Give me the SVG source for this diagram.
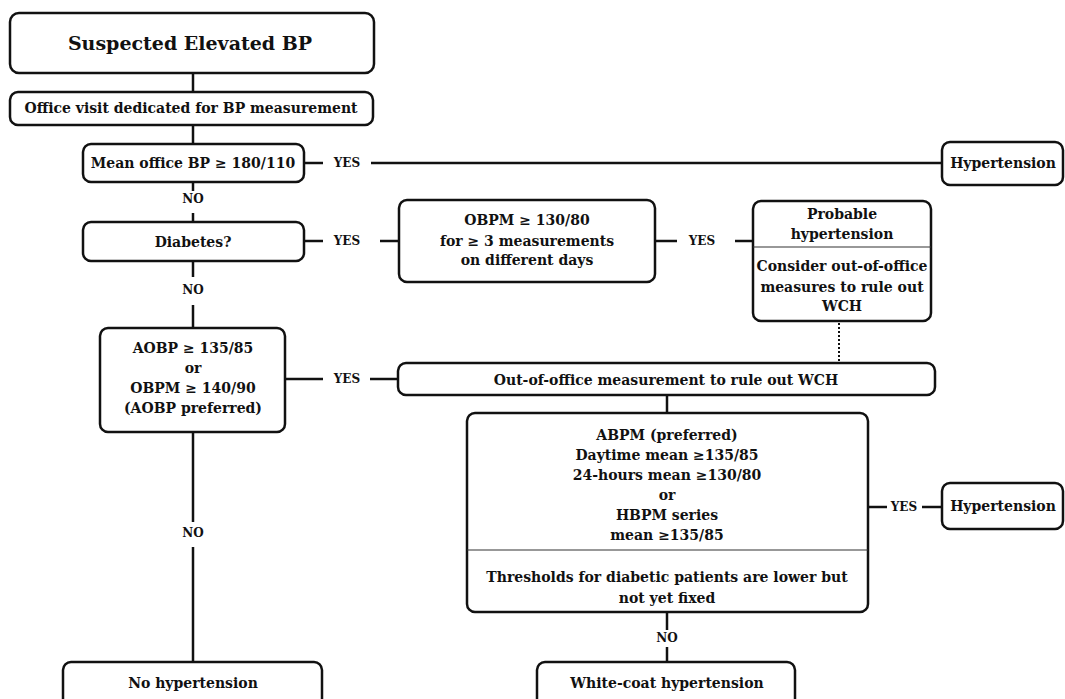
<svg xmlns="http://www.w3.org/2000/svg" width="1065" height="699" viewBox="0 0 1065 699">
<style>
.box{fill:#fff;stroke:#111;stroke-width:2.5}
.div{stroke:#333;stroke-width:1.2}
.ln{stroke:#111;stroke-width:2.5;fill:none}
.dot{stroke:#111;stroke-width:2;stroke-dasharray:2 2;fill:none}
text{font-family:"DejaVu Serif","Liberation Serif",serif;font-weight:bold;fill:#111;text-anchor:middle;dominant-baseline:central}
.t{font-size:14px}
.s{font-size:12px}
.h{font-size:19px}
</style>
<rect width="1065" height="699" fill="#fff"/>
<g id="connectors">
<line class="ln" x1="193" y1="73" x2="193" y2="92"/>
<line class="ln" x1="193" y1="125" x2="193" y2="144"/>
<line class="ln" x1="304" y1="163" x2="323" y2="163"/>
<text class="s" x="347" y="163">YES</text>
<line class="ln" x1="371" y1="163" x2="942" y2="163"/>
<line class="ln" x1="193" y1="182" x2="193" y2="191"/>
<text class="s" x="193" y="199">NO</text>
<line class="ln" x1="193" y1="213" x2="193" y2="222"/>
<line class="ln" x1="304" y1="241" x2="323" y2="241"/>
<text class="s" x="347" y="241">YES</text>
<line class="ln" x1="380" y1="241" x2="399" y2="241"/>
<line class="ln" x1="655" y1="241" x2="677" y2="241"/>
<text class="s" x="702" y="241">YES</text>
<line class="ln" x1="735" y1="241" x2="753" y2="241"/>
<line class="ln" x1="193" y1="261" x2="193" y2="277"/>
<text class="s" x="193" y="290">NO</text>
<line class="ln" x1="193" y1="305" x2="193" y2="328"/>
<line class="dot" x1="839" y1="323" x2="839" y2="362"/>
<line class="ln" x1="285" y1="379" x2="323" y2="379"/>
<text class="s" x="347" y="379">YES</text>
<line class="ln" x1="370" y1="379" x2="398" y2="379"/>
<line class="ln" x1="667" y1="395" x2="667" y2="413"/>
<line class="ln" x1="193" y1="432" x2="193" y2="522"/>
<text class="s" x="193" y="533">NO</text>
<line class="ln" x1="193" y1="547" x2="193" y2="662"/>
<line class="ln" x1="868" y1="507" x2="887" y2="507"/>
<text class="s" x="904" y="507">YES</text>
<line class="ln" x1="922" y1="507" x2="942" y2="507"/>
<line class="ln" x1="667" y1="612" x2="667" y2="630"/>
<text class="s" x="667" y="638">NO</text>
<line class="ln" x1="667" y1="647" x2="667" y2="662"/>
</g>
<g id="n-suspected">
<rect class="box" x="10" y="13" width="364" height="60" rx="9"/>
<text class="h" x="190" y="43">Suspected Elevated BP</text>
</g>
<g id="n-officevisit">
<rect class="box" x="10" y="92" width="363" height="33" rx="8"/>
<text class="t" x="191" y="108">Office visit dedicated for BP measurement</text>
</g>
<g id="n-mean">
<rect class="box" x="83" y="144" width="221" height="38" rx="8"/>
<text class="t" x="193" y="163">Mean office BP ≥  180/110</text>
</g>
<g id="n-htn1">
<rect class="box" x="942" y="142" width="121" height="43" rx="8"/>
<text class="t" x="1003" y="163">Hypertension</text>
</g>
<g id="n-diabetes">
<rect class="box" x="83" y="222" width="221" height="39" rx="8"/>
<text class="t" x="193" y="242">Diabetes?</text>
</g>
<g id="n-obpm">
<rect class="box" x="399" y="200" width="256" height="82" rx="8"/>
<text class="t" x="527" y="220">OBPM ≥ 130/80</text>
<text class="t" x="527" y="241">for ≥ 3 measurements</text>
<text class="t" x="527" y="260">on different days</text>
</g>
<g id="n-probable">
<rect class="box" x="753" y="201" width="178" height="120" rx="8"/>
<line class="div" x1="753" y1="247" x2="931" y2="247"/>
<text class="t" x="842" y="214">Probable</text>
<text class="t" x="842" y="234">hypertension</text>
<text class="t" x="842" y="266">Consider out-of-office</text>
<text class="t" x="842" y="287">measures to rule out</text>
<text class="t" x="842" y="306">WCH</text>
</g>
<g id="n-aobp">
<rect class="box" x="100" y="328" width="185" height="104" rx="8"/>
<text class="t" x="193" y="348">AOBP ≥ 135/85</text>
<text class="t" x="193" y="368">or</text>
<text class="t" x="193" y="388">OBPM ≥ 140/90</text>
<text class="t" x="193" y="408">(AOBP preferred)</text>
</g>
<g id="n-outoffice">
<rect class="box" x="398" y="363" width="537" height="32" rx="8"/>
<text class="t" x="666" y="380">Out-of-office measurement to rule out WCH</text>
</g>
<g id="n-abpm">
<rect class="box" x="467" y="413" width="401" height="199" rx="8"/>
<line class="div" x1="467" y1="550" x2="868" y2="550"/>
<text class="t" x="667" y="435">ABPM (preferred)</text>
<text class="t" x="667" y="455">Daytime mean ≥135/85</text>
<text class="t" x="667" y="475">24-hours mean ≥130/80</text>
<text class="t" x="667" y="495">or</text>
<text class="t" x="667" y="515">HBPM series</text>
<text class="t" x="667" y="535">mean ≥135/85</text>
<text class="t" x="667" y="577">Thresholds for diabetic patients are lower but</text>
<text class="t" x="667" y="598">not yet fixed</text>
</g>
<g id="n-htn2">
<rect class="box" x="942" y="483" width="121" height="46" rx="8"/>
<text class="t" x="1003" y="506">Hypertension</text>
</g>
<g id="n-nohtn">
<rect class="box" x="63" y="662" width="259" height="46" rx="8"/>
<text class="t" x="193" y="683">No hypertension</text>
</g>
<g id="n-whitecoat">
<rect class="box" x="537" y="662" width="258" height="46" rx="8"/>
<text class="t" x="667" y="683">White-coat hypertension</text>
</g>
</svg>
